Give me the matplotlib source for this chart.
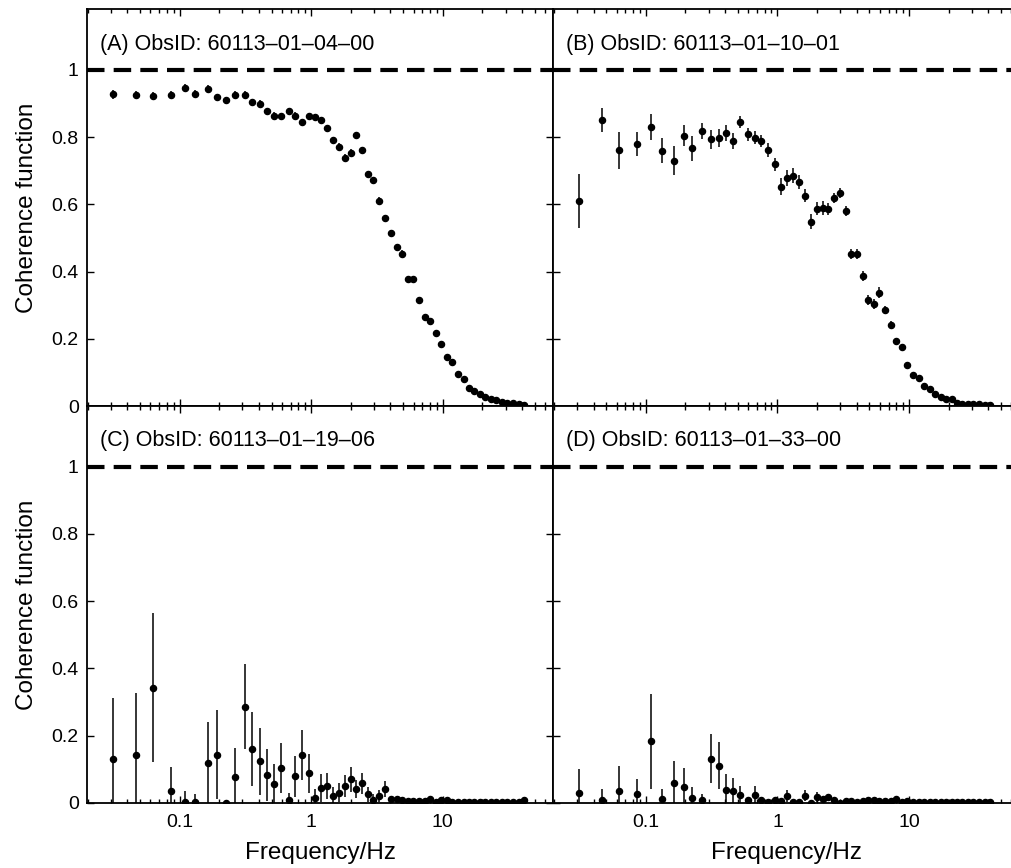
import numpy as np
import matplotlib
matplotlib.use('Agg')
import matplotlib.pyplot as plt
from matplotlib.ticker import NullFormatter

plt.rcParams['font.family'] = ['Liberation Sans', 'DejaVu Sans']

# frequenze centrali dei bin logaritmici (Hz), comuni a tutte le osservazioni
freq = [0.0310, 0.0466, 0.0624, 0.0855, 0.109, 0.132, 0.163, 0.194, 0.225, 0.265,
        0.312, 0.358, 0.405, 0.461, 0.520, 0.592, 0.673, 0.756, 0.849, 0.954,
        1.06, 1.18, 1.31, 1.46, 1.62, 1.80, 2.00, 2.20, 2.44, 2.69,
        2.97, 3.30, 3.65, 4.03, 4.45, 4.91, 5.42, 5.95, 6.57, 7.26,
        8.01, 8.85, 9.71, 10.7, 11.8, 13.0, 14.4, 15.8, 17.4, 19.1,
        21.1, 23.2, 25.4, 28.1, 30.8, 34.0, 37.6, 41.2]

obs_ids = ['(A) ObsID: 60113\u201301\u201304\u201300',
           '(B) ObsID: 60113\u201301\u201310\u201301',
           '(C) ObsID: 60113\u201301\u201319\u201306',
           '(D) ObsID: 60113\u201301\u201333\u201300']

coh_A = [0.927, 0.926, 0.922, 0.926, 0.947, 0.928, 0.943, 0.918, 0.909, 0.926,
         0.926, 0.904, 0.899, 0.876, 0.864, 0.862, 0.876, 0.863, 0.844, 0.862,
         0.859, 0.850, 0.826, 0.790, 0.770, 0.737, 0.753, 0.805, 0.761, 0.690,
         0.672, 0.611, 0.559, 0.515, 0.472, 0.453, 0.377, 0.379, 0.317, 0.264,
         0.252, 0.218, 0.186, 0.147, 0.132, 0.095, 0.082, 0.054, 0.046, 0.035,
         0.028, 0.021, 0.018, 0.012, 0.010, 0.009, 0.006, 0.004]
err_A = [0.013, 0.012, 0.013, 0.012, 0.012, 0.011, 0.011, 0.011, 0.011, 0.010,
         0.010, 0.010, 0.010, 0.010, 0.010, 0.010, 0.010, 0.010, 0.011, 0.010,
         0.010, 0.010, 0.010, 0.011, 0.011, 0.012, 0.011, 0.010, 0.010, 0.010,
         0.010, 0.010, 0.010, 0.010, 0.010, 0.010, 0.009, 0.009, 0.009, 0.008,
         0.008, 0.007, 0.007, 0.006, 0.006, 0.005, 0.005, 0.004, 0.004, 0.003,
         0.003, 0.003, 0.002, 0.002, 0.002, 0.002, 0.002, 0.002]

coh_B = [0.609, 0.850, 0.761, 0.780, 0.830, 0.760, 0.730, 0.804, 0.766, 0.818,
         0.793, 0.797, 0.812, 0.788, 0.844, 0.808, 0.798, 0.789, 0.761, 0.719,
         0.653, 0.679, 0.685, 0.666, 0.626, 0.549, 0.587, 0.589, 0.585, 0.618,
         0.635, 0.580, 0.452, 0.452, 0.388, 0.317, 0.305, 0.338, 0.286, 0.241,
         0.193, 0.176, 0.124, 0.092, 0.085, 0.059, 0.052, 0.036, 0.028, 0.022,
         0.020, 0.011, 0.008, 0.007, 0.006, 0.006, 0.005, 0.005]
err_B = [0.080, 0.035, 0.055, 0.036, 0.038, 0.038, 0.042, 0.031, 0.038, 0.025,
         0.028, 0.027, 0.024, 0.024, 0.018, 0.019, 0.019, 0.018, 0.020, 0.020,
         0.025, 0.023, 0.022, 0.020, 0.020, 0.022, 0.020, 0.020, 0.018, 0.015,
         0.015, 0.015, 0.015, 0.015, 0.015, 0.015, 0.015, 0.015, 0.012, 0.012,
         0.010, 0.010, 0.008, 0.007, 0.006, 0.005, 0.005, 0.004, 0.004, 0.003,
         0.003, 0.002, 0.002, 0.002, 0.002, 0.002, 0.002, 0.002]

coh_C = [0.132, 0.142, 0.343, 0.035, 0.003, 0.003, 0.118, 0.144, 0.000, 0.077,
         0.286, 0.160, 0.124, 0.083, 0.055, 0.104, 0.009, 0.079, 0.142, 0.089,
         0.016, 0.045, 0.050, 0.022, 0.030, 0.050, 0.070, 0.041, 0.058, 0.026,
         0.010, 0.021, 0.042, 0.012, 0.011, 0.010, 0.006, 0.007, 0.005, 0.006,
         0.013, 0.002, 0.010, 0.008, 0.002, 0.004, 0.003, 0.003, 0.004, 0.003,
         0.004, 0.004, 0.003, 0.002, 0.002, 0.002, 0.003, 0.009]
err_C = [0.180, 0.185, 0.222, 0.072, 0.032, 0.025, 0.123, 0.132, 0.002, 0.085,
         0.127, 0.110, 0.100, 0.077, 0.060, 0.073, 0.021, 0.060, 0.075, 0.058,
         0.027, 0.041, 0.038, 0.026, 0.028, 0.033, 0.038, 0.027, 0.032, 0.022,
         0.018, 0.017, 0.023, 0.005, 0.005, 0.004, 0.004, 0.004, 0.003, 0.003,
         0.004, 0.003, 0.003, 0.003, 0.002, 0.002, 0.002, 0.002, 0.002, 0.002,
         0.002, 0.002, 0.002, 0.002, 0.002, 0.002, 0.002, 0.003]

coh_D = [0.031, 0.008, 0.037, 0.027, 0.183, 0.012, 0.059, 0.047, 0.014, 0.010,
         0.132, 0.111, 0.040, 0.037, 0.023, 0.008, 0.024, 0.008, 0.003, 0.009,
         0.007, 0.021, 0.003, 0.003, 0.022, 0.001, 0.018, 0.012, 0.018, 0.008,
         0.001, 0.006, 0.005, 0.003, 0.006, 0.008, 0.010, 0.005, 0.005, 0.007,
         0.011, 0.004, 0.006, 0.004, 0.003, 0.003, 0.003, 0.003, 0.003, 0.003,
         0.003, 0.003, 0.003, 0.003, 0.003, 0.003, 0.003, 0.003]
err_D = [0.069, 0.035, 0.073, 0.045, 0.142, 0.031, 0.065, 0.058, 0.034, 0.018,
         0.074, 0.069, 0.045, 0.036, 0.028, 0.010, 0.027, 0.008, 0.003, 0.006,
         0.005, 0.019, 0.003, 0.003, 0.016, 0.002, 0.015, 0.010, 0.010, 0.005,
         0.003, 0.004, 0.003, 0.003, 0.003, 0.003, 0.003, 0.003, 0.003, 0.003,
         0.003, 0.002, 0.002, 0.002, 0.002, 0.002, 0.002, 0.002, 0.002, 0.002,
         0.002, 0.002, 0.002, 0.002, 0.002, 0.002, 0.002, 0.002]

coh = [coh_A, coh_B, coh_C, coh_D]
err = [err_A, err_B, err_C, err_D]

yticks = [0, 0.2, 0.4, 0.6, 0.8, 1]
ytick_labels = ['0', '0.2', '0.4', '0.6', '0.8', '1']
xticks = [0.1, 1, 10]
xtick_labels = ['0.1', '1', '10']

fig = plt.figure(figsize=(10.11, 8.68), dpi=100)

# posizioni dei 4 pannelli [left, bottom, width, height], senza spazi tra loro
w = 0.461
h = 0.4574
pos = [[0.0861, 0.532, w, h],
       [0.5473, 0.532, w, h],
       [0.0861, 0.0749, w, h],
       [0.5473, 0.0749, w, h]]

for i in range(4):
    ax = fig.add_axes(pos[i])
    ax.errorbar(freq, coh[i], yerr=err[i], fmt='o', color='k', ms=4.4,
                elinewidth=1.1, capsize=0, zorder=3)
    ax.axhline(1, color='k', lw=3, dashes=(4.2, 2.2), zorder=2)
    ax.set_xscale('log')
    ax.set_xlim(0.0198, 68.9)
    ax.set_ylim(0, 1.18)
    ax.set_yticks(yticks)
    ax.set_xticks(xticks)
    ax.xaxis.set_minor_formatter(NullFormatter())
    ax.tick_params(which='both', direction='in', top=True, right=True,
                   labelsize=14, width=1)
    ax.tick_params(which='major', length=5)
    ax.tick_params(which='minor', length=3)
    ax.tick_params(axis='y', pad=6)
    ax.tick_params(axis='x', pad=8)
    for s in ax.spines.values():
        s.set_linewidth(1.3)
    ax.text(0.028, 0.912, obs_ids[i], transform=ax.transAxes,
            fontsize=15.5, va='center', ha='left')

    # etichette solo sui bordi esterni
    if i % 2 == 0:
        ax.set_yticklabels(ytick_labels)
        ax.set_ylabel("Coherence function", fontsize=17.5, labelpad=10)
    else:
        ax.set_yticklabels([])
    if i >= 2:
        ax.set_xticklabels(xtick_labels)
        ax.set_xlabel("Frequency/Hz", fontsize=17.5, labelpad=8)
    else:
        ax.set_xticklabels([])

plt.savefig('out.png', dpi=100)
